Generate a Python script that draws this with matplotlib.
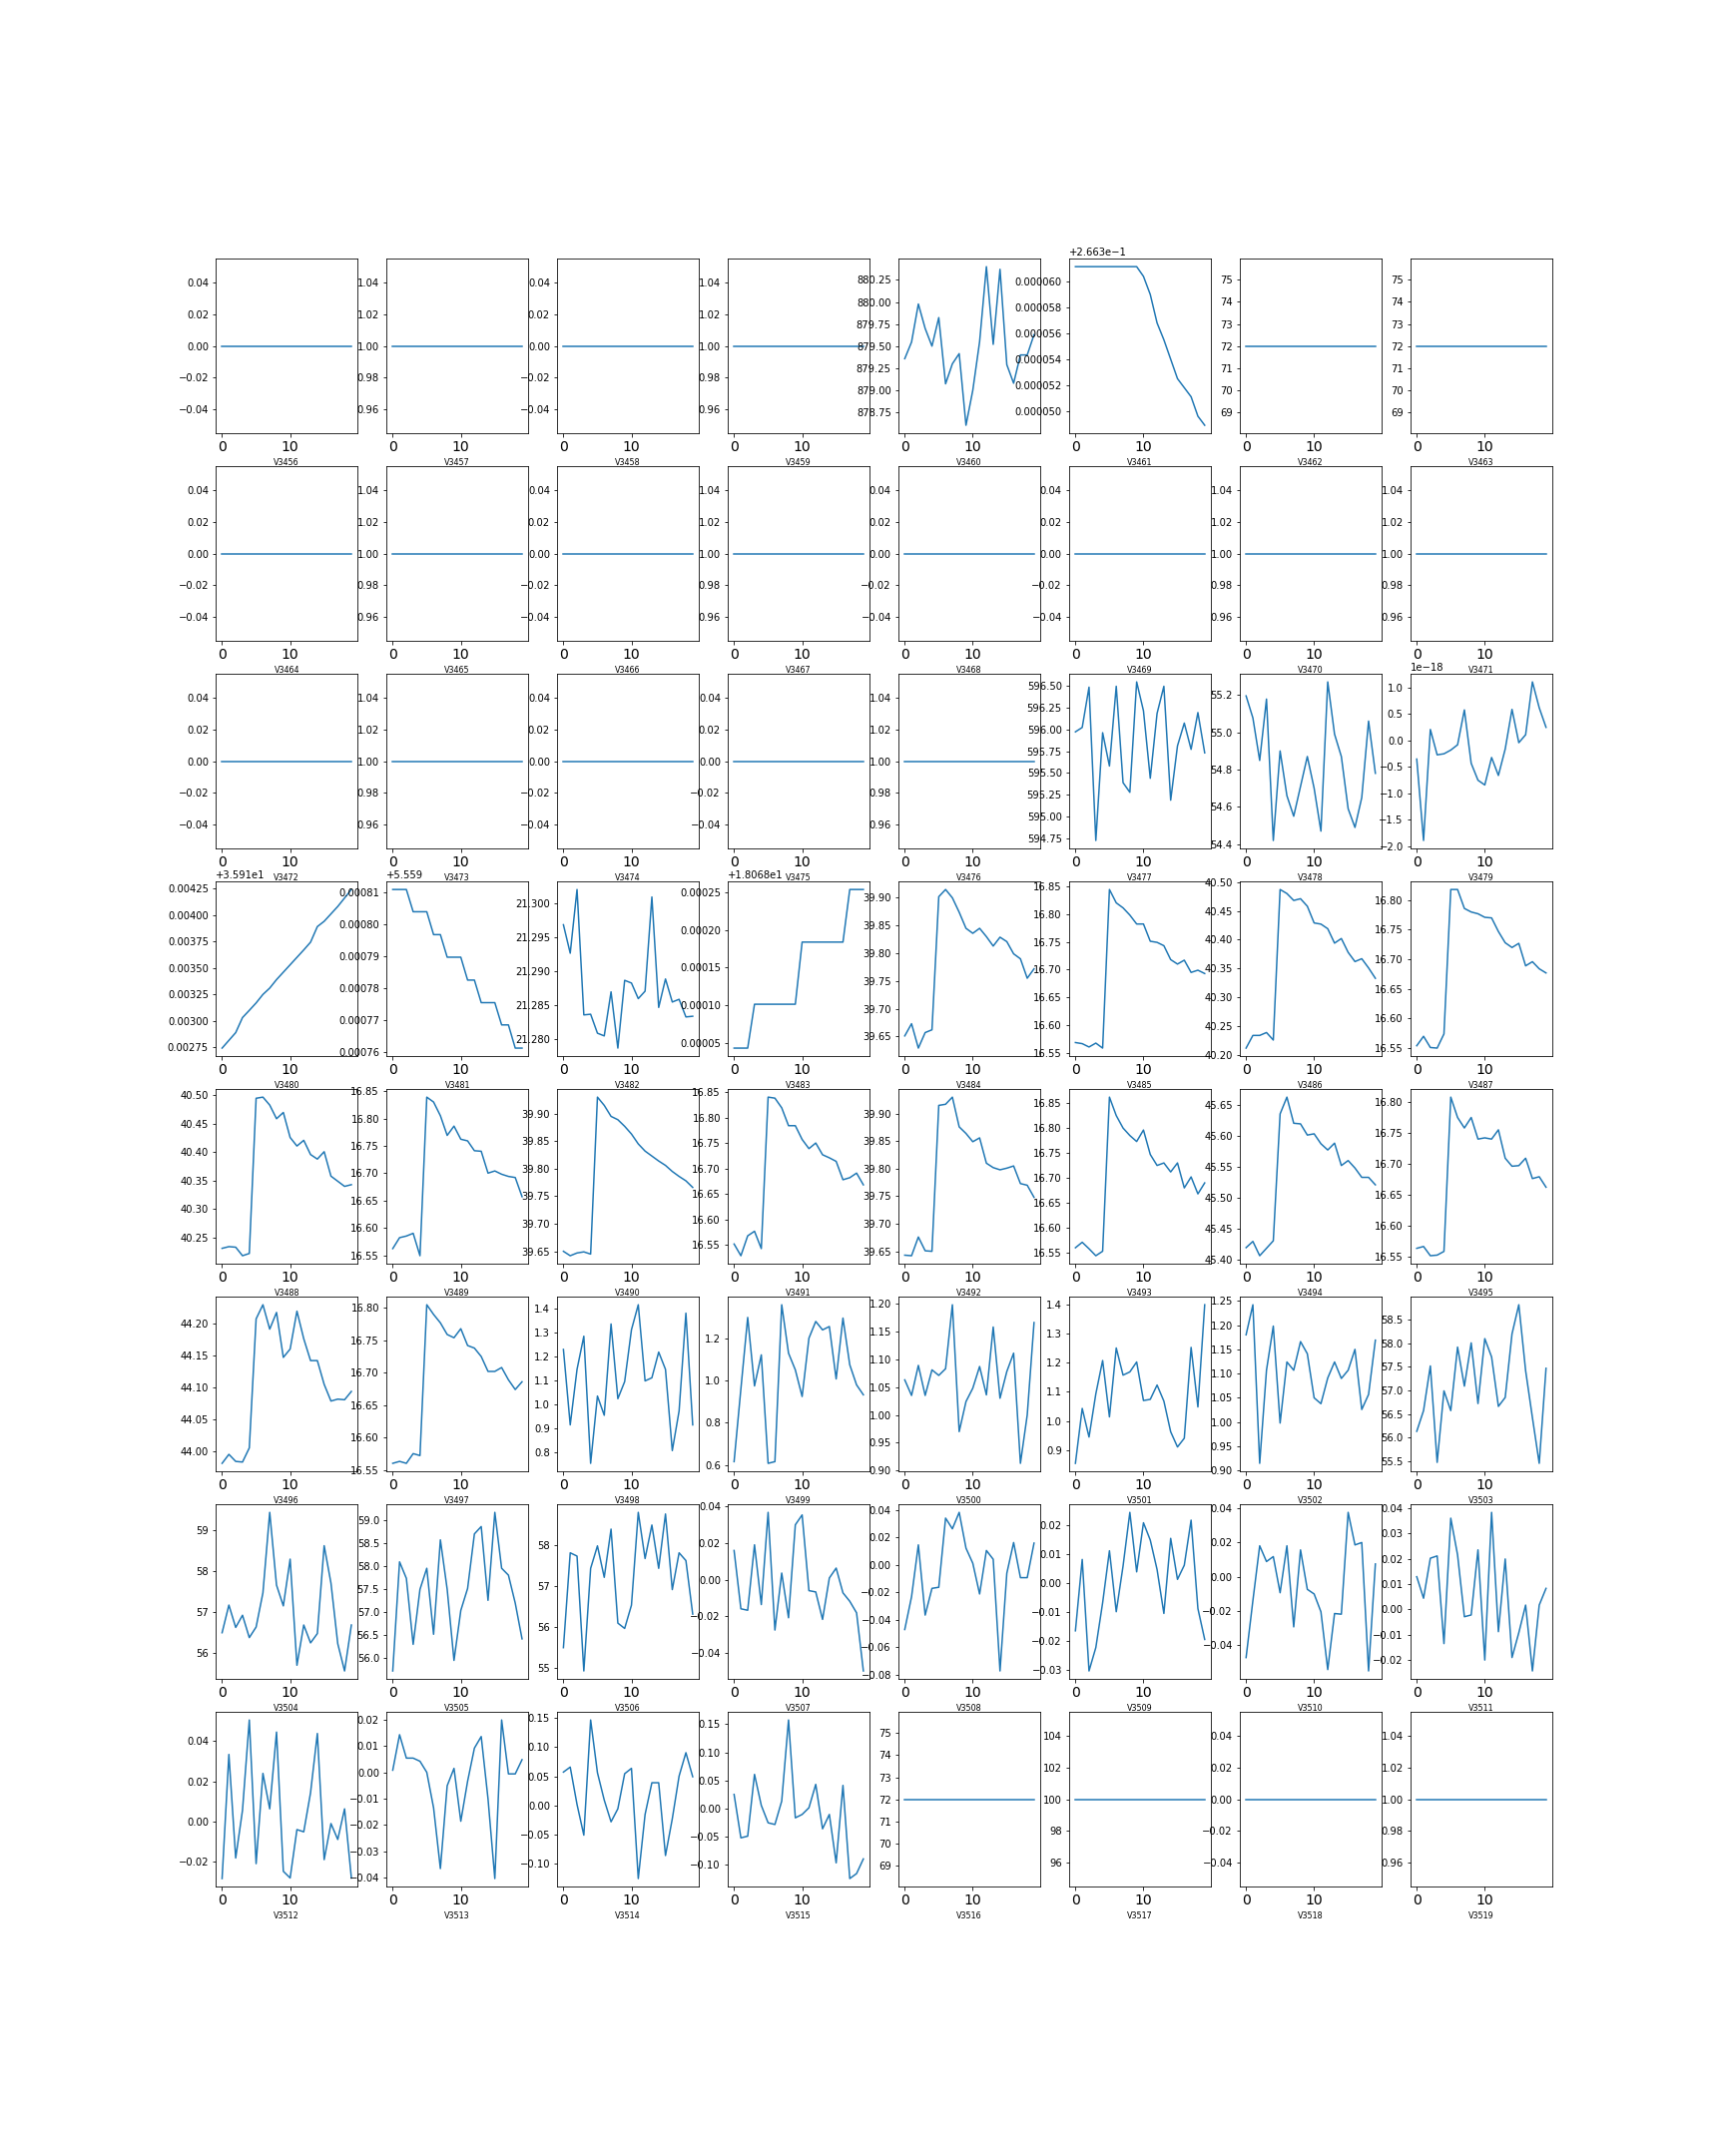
import numpy as np
import matplotlib
matplotlib.use('Agg')
import matplotlib.pyplot as plt

# === Column names (8 x 8 grid) ===
names = ['V3456', 'V3457', 'V3458', 'V3459', 'V3460', 'V3461', 'V3462', 'V3463',
         'V3464', 'V3465', 'V3466', 'V3467', 'V3468', 'V3469', 'V3470', 'V3471',
         'V3472', 'V3473', 'V3474', 'V3475', 'V3476', 'V3477', 'V3478', 'V3479',
         'V3480', 'V3481', 'V3482', 'V3483', 'V3484', 'V3485', 'V3486', 'V3487',
         'V3488', 'V3489', 'V3490', 'V3491', 'V3492', 'V3493', 'V3494', 'V3495',
         'V3496', 'V3497', 'V3498', 'V3499', 'V3500', 'V3501', 'V3502', 'V3503',
         'V3504', 'V3505', 'V3506', 'V3507', 'V3508', 'V3509', 'V3510', 'V3511',
         'V3512', 'V3513', 'V3514', 'V3515', 'V3516', 'V3517', 'V3518', 'V3519']

n_rows = 20

# === Constant columns (level) ===
constant_levels = {
    'V3456': 0, 'V3457': 1, 'V3458': 0, 'V3459': 1, 'V3462': 72, 'V3463': 72,
    'V3464': 0, 'V3465': 1, 'V3466': 0, 'V3467': 1, 'V3468': 0, 'V3469': 0,
    'V3470': 1, 'V3471': 1, 'V3472': 0, 'V3473': 1, 'V3474': 0, 'V3475': 0,
    'V3476': 1, 'V3516': 72, 'V3517': 100, 'V3518': 0, 'V3519': 1,
}

# === Varying columns ===
v3460 = [879.358, 879.546, 879.977, 879.70, 879.50, 879.823, 879.073, 879.30, 879.415, 878.604,
         879.00, 879.55, 880.40, 879.52, 880.37, 879.29, 879.08, 879.40, 879.40, 879.63]
v3461 = [0.26636115, 0.26636115, 0.26636115, 0.26636115, 0.26636115, 0.26636115, 0.26636115,
         0.26636115, 0.26636115, 0.26636115, 0.2663604, 0.2663590, 0.2663568, 0.2663555,
         0.2663540, 0.2663525, 0.2663518, 0.2663511, 0.2663496, 0.2663489]
v3477 = [595.97, 596.02, 596.48, 594.73, 595.96, 595.58, 596.49, 595.39, 595.28, 596.54,
         596.21, 595.44, 596.18, 596.49, 595.19, 595.81, 596.07, 595.77, 596.19, 595.73]
v3478 = [55.195, 55.077, 54.849, 55.178, 54.42, 54.90, 54.66, 54.55, 54.71, 54.87,
         54.70, 54.47, 55.27, 54.99, 54.87, 54.59, 54.49, 54.65, 55.06, 54.78]
v3479 = [-0.35e-18, -1.89e-18, 0.21e-18, -0.27e-18, -0.25e-18, -0.18e-18, -0.08e-18, 0.58e-18,
         -0.43e-18, -0.75e-18, -0.84e-18, -0.32e-18, -0.66e-18, -0.16e-18, 0.59e-18, -0.04e-18,
         0.11e-18, 1.11e-18, 0.62e-18, 0.25e-18]
v3480 = [35.912744, 35.912817, 35.91289, 35.913032, 35.9131, 35.91317, 35.91325, 35.91331,
         35.91339, 35.91346, 35.91353, 35.91360, 35.91367, 35.913743, 35.91389, 35.91394,
         35.91401, 35.91408, 35.91416, 35.91424]
v3481 = [5.559811, 5.559811, 5.559811, 5.559804, 5.559804, 5.559804, 5.5597968, 5.5597968,
         5.5597897, 5.5597897, 5.5597897, 5.5597825, 5.5597825, 5.5597754, 5.5597754, 5.5597754,
         5.5597684, 5.5597684, 5.5597611, 5.5597611]
v3482 = [21.2968, 21.2926, 21.3020, 21.2835, 21.2836, 21.2808, 21.2804, 21.2869, 21.2786, 21.2886,
         21.2882, 21.2859, 21.2870, 21.3009, 21.2846, 21.2888, 21.2854, 21.2858, 21.2832, 21.2833]
v3483 = [18.0680429, 18.0680429, 18.0680429, 18.0681013, 18.0681013, 18.0681013, 18.0681013,
         18.0681013, 18.0681013, 18.0681013, 18.068184, 18.068184, 18.068184, 18.068184,
         18.068184, 18.068184, 18.068184, 18.068254, 18.068254, 18.068254]
v3484 = [39.651, 39.673, 39.629, 39.657, 39.662, 39.902, 39.915, 39.900, 39.874, 39.845,
         39.836, 39.845, 39.830, 39.813, 39.829, 39.821, 39.799, 39.790, 39.755, 39.772]
v3485 = [16.569, 16.567, 16.561, 16.568, 16.559, 16.844, 16.820, 16.811, 16.798, 16.782,
         16.782, 16.751, 16.749, 16.743, 16.718, 16.710, 16.717, 16.695, 16.699, 16.693]
v3486 = [40.212, 40.234, 40.234, 40.239, 40.226, 40.487, 40.480, 40.468, 40.471, 40.458,
         40.429, 40.427, 40.419, 40.394, 40.402, 40.378, 40.362, 40.367, 40.351, 40.333]
v3487 = [16.554, 16.570, 16.551, 16.550, 16.574, 16.818, 16.818, 16.786, 16.780, 16.777,
         16.771, 16.770, 16.747, 16.728, 16.720, 16.727, 16.689, 16.696, 16.684, 16.677]
v3488 = [40.231, 40.234, 40.233, 40.218, 40.222, 40.495, 40.497, 40.483, 40.459, 40.470,
         40.426, 40.411, 40.421, 40.396, 40.388, 40.401, 40.358, 40.349, 40.340, 40.343]
v3489 = [16.562, 16.582, 16.585, 16.590, 16.549, 16.839, 16.830, 16.805, 16.769, 16.786,
         16.762, 16.759, 16.741, 16.740, 16.700, 16.704, 16.698, 16.694, 16.692, 16.657]
v3490 = [39.650, 39.642, 39.647, 39.649, 39.645, 39.930, 39.915, 39.895, 39.889, 39.877,
         39.863, 39.845, 39.832, 39.823, 39.814, 39.806, 39.795, 39.786, 39.778, 39.766]
v3491 = [16.552, 16.529, 16.568, 16.577, 16.543, 16.840, 16.838, 16.819, 16.784, 16.784,
         16.757, 16.739, 16.750, 16.727, 16.721, 16.714, 16.678, 16.682, 16.691, 16.668]
v3492 = [39.643, 39.642, 39.676, 39.651, 39.650, 39.915, 39.917, 39.930, 39.876, 39.864,
         39.849, 39.856, 39.810, 39.802, 39.798, 39.801, 39.805, 39.773, 39.770, 39.748]
v3493 = [16.560, 16.571, 16.558, 16.544, 16.553, 16.862, 16.825, 16.800, 16.785, 16.773,
         16.796, 16.747, 16.725, 16.730, 16.712, 16.730, 16.680, 16.702, 16.668, 16.690]
v3494 = [45.420, 45.430, 45.407, 45.419, 45.431, 45.635, 45.662, 45.620, 45.619, 45.601,
         45.603, 45.587, 45.577, 45.588, 45.552, 45.560, 45.548, 45.533, 45.533, 45.521]
v3495 = [16.563, 16.566, 16.551, 16.552, 16.558, 16.808, 16.775, 16.758, 16.775, 16.740,
         16.742, 16.740, 16.755, 16.709, 16.696, 16.697, 16.709, 16.676, 16.679, 16.662]
v3496 = [43.982, 43.996, 43.985, 43.984, 44.006, 44.207, 44.229, 44.191, 44.217, 44.147,
         44.160, 44.219, 44.176, 44.142, 44.142, 44.105, 44.079, 44.082, 44.081, 44.094]
v3497 = [16.560, 16.563, 16.560, 16.575, 16.572, 16.805, 16.790, 16.777, 16.759, 16.754,
         16.768, 16.742, 16.738, 16.725, 16.702, 16.702, 16.708, 16.689, 16.674, 16.686]
v3498 = [1.228, 0.914, 1.145, 1.283, 0.754, 1.034, 0.954, 1.334, 1.023, 1.094,
         1.310, 1.414, 1.097, 1.110, 1.217, 1.145, 0.807, 0.972, 1.379, 0.914]
v3499 = [0.616, 0.96, 1.298, 0.974, 1.121, 0.608, 0.616, 1.358, 1.129, 1.050,
         0.924, 1.200, 1.279, 1.239, 1.255, 1.007, 1.295, 1.074, 0.979, 0.932]
v3500 = [1.063, 1.035, 1.089, 1.035, 1.081, 1.071, 1.083, 1.198, 0.970, 1.024,
         1.048, 1.087, 1.036, 1.158, 1.030, 1.078, 1.111, 0.913, 1.000, 1.166]
v3501 = [0.855, 1.043, 0.945, 1.093, 1.207, 1.014, 1.250, 1.157, 1.168, 1.202,
         1.070, 1.074, 1.123, 1.068, 0.963, 0.911, 0.941, 1.252, 1.048, 1.398]
v3502 = [1.180, 1.242, 0.915, 1.107, 1.198, 0.998, 1.124, 1.107, 1.166, 1.141,
         1.050, 1.038, 1.091, 1.124, 1.090, 1.107, 1.150, 1.026, 1.057, 1.169]
v3503 = [56.13, 56.57, 57.52, 55.47, 56.99, 56.57, 57.92, 57.09, 58.01, 56.72,
         58.10, 57.71, 56.66, 56.85, 58.20, 58.82, 57.42, 56.42, 55.45, 57.47]
v3504 = [56.49, 57.17, 56.62, 56.92, 56.37, 56.63, 57.47, 59.45, 57.66, 57.15,
         58.30, 55.69, 56.68, 56.24, 56.47, 58.63, 57.71, 56.22, 55.55, 56.68]
v3505 = [55.72, 58.10, 57.74, 56.30, 57.50, 57.96, 56.52, 58.58, 57.50, 55.95,
         57.04, 57.52, 58.71, 58.87, 57.26, 59.18, 57.96, 57.81, 57.20, 56.42]
v3506 = [55.49, 57.81, 57.73, 54.92, 57.43, 57.98, 57.21, 58.39, 56.09, 55.96,
         56.53, 58.80, 57.67, 58.49, 57.43, 58.76, 56.91, 57.81, 57.62, 56.31]
v3507 = [0.0159, -0.0159, -0.0167, 0.0190, -0.0136, 0.0367, -0.0275, 0.0036, -0.0208, 0.0299,
         0.0353, -0.0060, -0.0067, -0.0217, 0.0009, 0.0063, -0.0072, -0.0118, -0.0181, -0.0498]
v3508 = [-0.0471, -0.0232, 0.0146, -0.0366, -0.0171, -0.0163, 0.0341, 0.0263, 0.0383, 0.0122,
         0.0012, -0.0212, 0.0105, 0.0041, -0.0773, -0.0061, 0.0163, -0.0093, -0.0093, 0.0159]
v3509 = [-0.0166, 0.0081, -0.0305, -0.0224, -0.0069, 0.0111, -0.0100, 0.0058, 0.0244, 0.0038,
         0.0208, 0.0148, 0.0046, -0.0106, 0.0154, 0.0012, 0.0061, 0.0217, -0.0089, -0.0196]
v3510 = [-0.0472, -0.0140, 0.0180, 0.0088, 0.0117, -0.0094, 0.0180, -0.0293, 0.0156, -0.0074,
         -0.0101, -0.0205, -0.0542, -0.0215, -0.0219, 0.0375, 0.0185, 0.0199, -0.0550, 0.0074]
v3511 = [0.0129, 0.0044, 0.0202, 0.0211, -0.0135, 0.0360, 0.0215, -0.0029, -0.0022, 0.0235,
         -0.0200, 0.0383, -0.0088, 0.0199, -0.0190, -0.0092, 0.0017, -0.0243, 0.0017, 0.0083]
v3512 = [-0.0283, 0.0333, -0.0181, 0.0056, 0.0504, -0.0209, 0.0239, 0.0063, 0.0444, -0.0247,
         -0.0280, -0.0040, -0.0051, 0.0143, 0.0437, -0.0189, -0.0010, -0.0089, 0.0063, -0.0280]
v3513 = [0.0008, 0.0143, 0.0054, 0.0054, 0.0042, 0.0000, -0.0135, -0.0366, -0.0051, 0.0015,
         -0.0186, -0.0034, 0.0092, 0.0136, -0.0101, -0.0404, 0.0199, -0.0006, -0.0006, 0.0048]
v3514 = [0.0573, 0.0659, 0.0017, -0.0510, 0.1468, 0.0562, 0.0092, -0.0281, -0.0057, 0.0545,
         0.0637, -0.1256, -0.0155, 0.0390, 0.0390, -0.0860, -0.0229, 0.0505, 0.0906, 0.0493]
v3515 = [0.0250, -0.0524, -0.0494, 0.0607, 0.0054, -0.0256, -0.0286, 0.0131, 0.1577, -0.0167,
         -0.0107, 0.0012, 0.0429, -0.0363, -0.0107, -0.0970, 0.0411, -0.1250, -0.1161, -0.0899]

varying = {
    'V3460': v3460, 'V3461': v3461, 'V3477': v3477, 'V3478': v3478, 'V3479': v3479,
    'V3480': v3480, 'V3481': v3481, 'V3482': v3482, 'V3483': v3483, 'V3484': v3484,
    'V3485': v3485, 'V3486': v3486, 'V3487': v3487, 'V3488': v3488, 'V3489': v3489,
    'V3490': v3490, 'V3491': v3491, 'V3492': v3492, 'V3493': v3493, 'V3494': v3494,
    'V3495': v3495, 'V3496': v3496, 'V3497': v3497, 'V3498': v3498, 'V3499': v3499,
    'V3500': v3500, 'V3501': v3501, 'V3502': v3502, 'V3503': v3503, 'V3504': v3504,
    'V3505': v3505, 'V3506': v3506, 'V3507': v3507, 'V3508': v3508, 'V3509': v3509,
    'V3510': v3510, 'V3511': v3511, 'V3512': v3512, 'V3513': v3513, 'V3514': v3514,
    'V3515': v3515,
}

# columns whose tick labels show a bare offset (no 1e-5 multiplier)
plain_offset = ['V3461', 'V3481']

# === Plot ===
fig, axes = plt.subplots(8, 8, figsize=(24, 30))
fig.subplots_adjust(left=0.125, right=0.9, top=0.88, bottom=0.125, wspace=0.2, hspace=0.19)

x = np.arange(n_rows)
for ax, name in zip(axes.flat, names):
    if name in varying:
        y = np.array(varying[name])
    else:
        y = np.full(n_rows, float(constant_levels[name]))
    ax.plot(x, y, color='#1f77b4')
    ax.set_xlabel(name, fontsize=8)
    ax.tick_params(axis='x', labelsize=14)
    if name in plain_offset:
        ax.ticklabel_format(axis='y', style='plain')

fig.savefig('out.png', dpi=72)
